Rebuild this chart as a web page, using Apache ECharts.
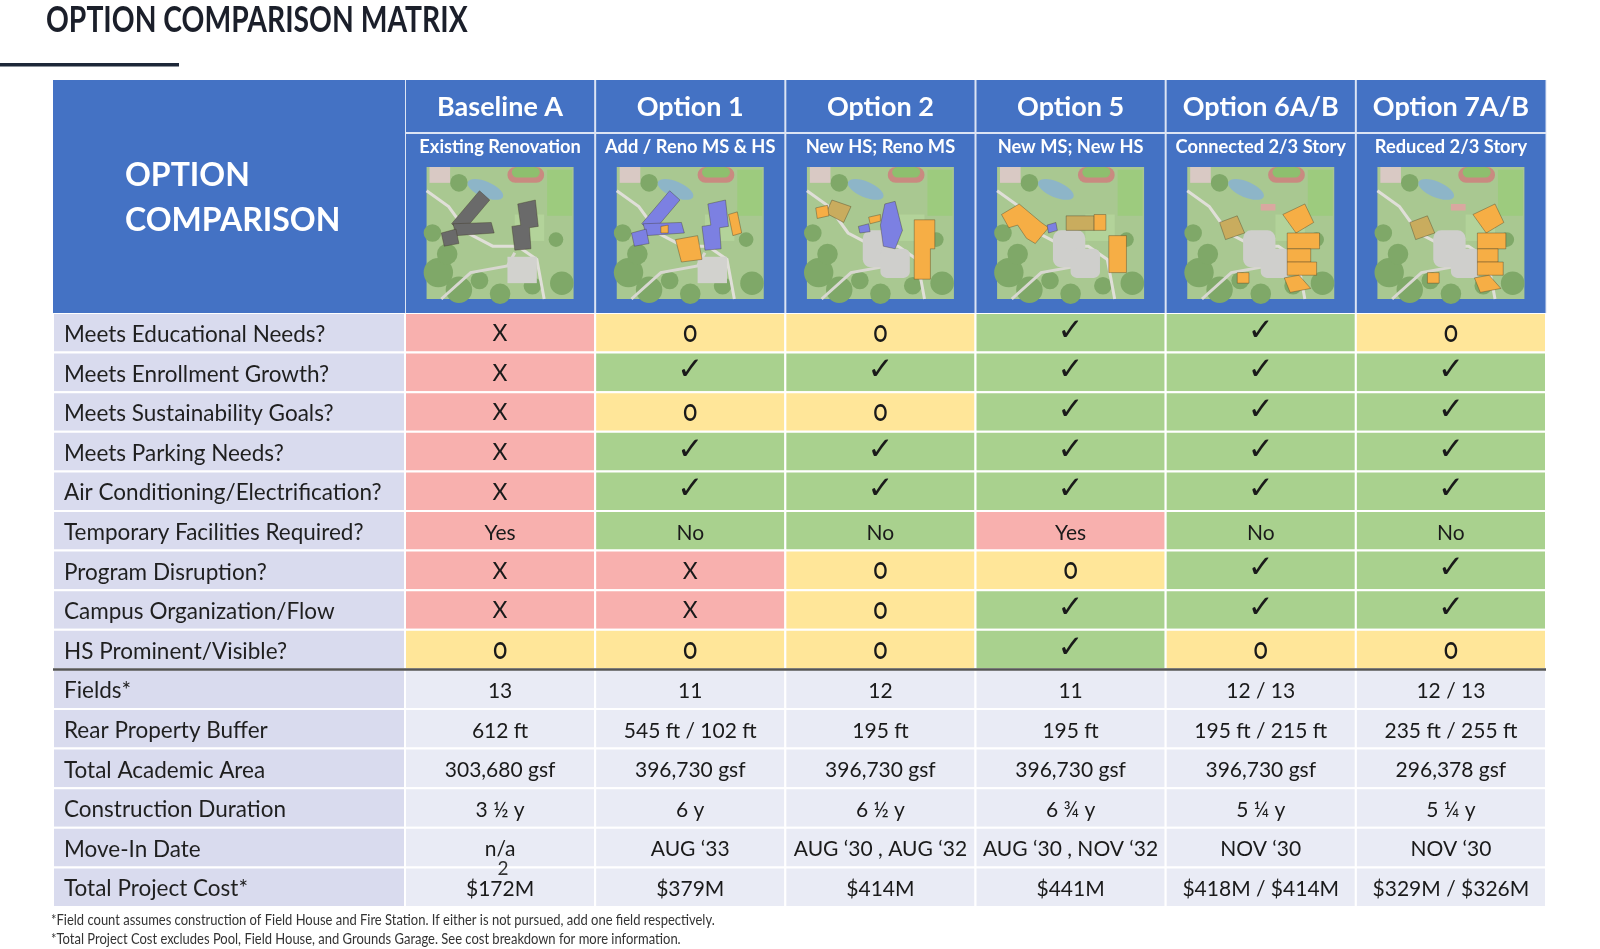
<!DOCTYPE html>
<html>
<head>
<meta charset="utf-8">
<script src="https://cdn.jsdelivr.net/npm/echarts@6/dist/echarts.min.js"></script>
<style>
html,body{margin:0;padding:0;background:#fff;}
#chart{width:1600px;height:949px;}
</style>
</head>
<body>
<div id="chart"></div>
<script>
// ---------- DATA ----------
const options = ['Baseline A', 'Option 1', 'Option 2', 'Option 5', 'Option 6A/B', 'Option 7A/B'];
const subtitles = ['Existing Renovation', 'Add / Reno MS & HS', 'New HS; Reno MS', 'New MS; New HS', 'Connected 2/3 Story', 'Reduced 2/3 Story'];
const criteria = [
  'Meets Educational Needs?',
  'Meets Enrollment Growth?',
  'Meets Sustainability Goals?',
  'Meets Parking Needs?',
  'Air Conditioning/Electrification?',
  'Temporary Facilities Required?',
  'Program Disruption?',
  'Campus Organization/Flow',
  'HS Prominent/Visible?'
];
const ratings = [
  ['X', 'O', 'O', '✓', '✓', 'O'],
  ['X', '✓', '✓', '✓', '✓', '✓'],
  ['X', 'O', 'O', '✓', '✓', '✓'],
  ['X', '✓', '✓', '✓', '✓', '✓'],
  ['X', '✓', '✓', '✓', '✓', '✓'],
  ['Yes', 'No', 'No', 'Yes', 'No', 'No'],
  ['X', 'X', 'O', 'O', '✓', '✓'],
  ['X', 'X', 'O', '✓', '✓', '✓'],
  ['O', 'O', 'O', '✓', 'O', 'O']
];
const metrics = [
  'Fields*',
  'Rear Property Buffer',
  'Total Academic Area',
  'Construction Duration',
  'Move-In Date',
  'Total Project Cost*'
];
const metricValues = [
  ['13', '11', '12', '11', '12 / 13', '12 / 13'],
  ['612 ft', '545 ft / 102 ft', '195 ft', '195 ft', '195 ft / 215 ft', '235 ft / 255 ft'],
  ['303,680 gsf', '396,730 gsf', '396,730 gsf', '396,730 gsf', '396,730 gsf', '296,378 gsf'],
  ['3 ½ y', '6 y', '6 ½ y', '6 ¾ y', '5 ¼ y', '5 ¼ y'],
  ['n/a', 'AUG ‘33', 'AUG ‘30 , AUG ‘32', 'AUG ‘30 , NOV ‘32', 'NOV ‘30', 'NOV ‘30'],
  ['$172M', '$379M', '$414M', '$441M', '$418M / $414M', '$329M / $326M']
];
const footnotes = [
  '*Field count assumes construction of Field House and Fire Station. If either is not pursued, add one field respectively.',
  '*Total Project Cost excludes Pool, Field House, and Grounds Garage. See cost breakdown for more information.'
];
const titleText = 'OPTION COMPARISON MATRIX';
const headerLabel = 'OPTION\nCOMPARISON';

// ---------- STYLE ----------
const FONT = 'Lato, "Open Sans", sans-serif';
const BLUE = '#4472C4';
const STATUS_COLOR = { 'X': '#F8B0AE', 'Yes': '#F8B0AE', 'O': '#FFE699', '✓': '#A9D18E', 'No': '#A9D18E' };
const LABEL_BG = '#D9DBEE';
const METRIC_BG = '#E9EBF5';
const LABEL_W = 352;

const rows = criteria.concat(metrics);
const cells = [];
rows.forEach((r, ri) => {
  options.forEach((o, ci) => {
    const text = ri < criteria.length ? ratings[ri][ci] : metricValues[ri - criteria.length][ci];
    cells.push({ c: ci, r: ri, text: text, rating: ri < criteria.length });
  });
});

function thumb(x, y, w, h, k) {
  const P = (pts, fill) => ({ type: 'polygon', shape: { points: pts.map(p => [x + p[0] * w, y + p[1] * h]) }, style: { fill: fill, stroke: 'rgba(60,50,30,0.6)', lineWidth: 0.6 } });
  const Rr = (fx, fy, fw, fh, fill, extra) => ({ type: 'rect', shape: { x: x + fx * w, y: y + fy * h, width: fw * w, height: fh * h, r: (extra && extra.r) || 0 }, style: Object.assign({ fill: fill }, extra && extra.style) });
  const C = (fx, fy, fr, fill) => ({ type: 'circle', shape: { cx: x + fx * w, cy: y + fy * h, r: fr * w }, style: { fill: fill } });
  const L = (pts, color, lw) => ({ type: 'polyline', shape: { points: pts.map(p => [x + p[0] * w, y + p[1] * h]) }, style: { stroke: color, lineWidth: lw, fill: null } });
  const ch = [];
  ch.push(Rr(0, 0, 1, 1, '#A9C891'));
  ch.push(Rr(0.82, 0.02, 0.17, 0.35, '#9DCB7E'));
  ch.push(Rr(0.6, 0.36, 0.2, 0.2, '#B3D39A'));
  [[0.08, 0.8, 0.1], [0.22, 0.93, 0.09], [0.04, 0.5, 0.06], [0.14, 0.66, 0.07], [0.92, 0.88, 0.08], [0.88, 0.55, 0.05], [0.5, 0.96, 0.07], [0.22, 0.12, 0.06], [0.72, 0.9, 0.06], [0.36, 0.86, 0.06]].forEach(c => ch.push(C(c[0], c[1], c[2], '#7FA868')));
  ch.push(Rr(0.55, 0.0, 0.25, 0.12, '#C98A80', { r: 8 }));
  ch.push(Rr(0.58, 0.0, 0.19, 0.08, '#8EBF6E', { r: 6 }));
  ch.push({ type: 'ellipse', shape: { cx: x + 0.4 * w, cy: y + 0.17 * h, rx: 0.13 * w, ry: 0.06 * h }, rotation: -0.4, originX: x + 0.4 * w, originY: y + 0.17 * h, style: { fill: '#8DB5C8' } });
  ch.push(Rr(0.02, 0.0, 0.14, 0.12, '#D9C9C4'));
  ch.push(L([[0, 0.18], [0.15, 0.3], [0.28, 0.5], [0.45, 0.6], [0.62, 0.6], [0.75, 0.7], [0.8, 1]], '#E0DFD8', 3));
  ch.push(L([[0.1, 1], [0.3, 0.8], [0.55, 0.75], [0.6, 0.65]], '#D8D7D0', 3));
  if (k === 0 || k === 1) {
    ch.push(Rr(0.55, 0.68, 0.2, 0.2, '#D2D2CE'));
  } else {
    ch.push(Rr(0.38, 0.48, 0.22, 0.28, '#CFCFCC', { r: 8 }));
    ch.push(Rr(0.5, 0.62, 0.2, 0.22, '#CFCFCC', { r: 6 }));
  }
  const GREY = '#6A6A6A', PURP = '#7C80E2', ORG = '#F6AE45', TAN = '#C9AC5E';
  if (k === 0 || k === 1) {
    const col = k === 0 ? GREY : PURP;
    ch.push(P([[0.36, 0.18], [0.43, 0.25], [0.24, 0.5], [0.17, 0.43]], col));
    ch.push(P([[0.18, 0.43], [0.44, 0.42], [0.46, 0.5], [0.2, 0.52]], col));
    ch.push(P([[0.1, 0.5], [0.2, 0.47], [0.22, 0.58], [0.12, 0.6]], col));
    ch.push(P([[0.62, 0.28], [0.74, 0.25], [0.76, 0.45], [0.7, 0.46], [0.71, 0.62], [0.6, 0.63], [0.58, 0.45], [0.64, 0.44]], col));
    if (k === 1) {
      ch.push(P([[0.4, 0.55], [0.55, 0.52], [0.58, 0.7], [0.44, 0.72]], ORG));
      ch.push(P([[0.76, 0.36], [0.82, 0.34], [0.85, 0.5], [0.79, 0.52]], ORG));
      ch.push(P([[0.3, 0.45], [0.35, 0.44], [0.35, 0.5], [0.3, 0.5]], ORG));
    }
  } else if (k === 2) {
    ch.push(P([[0.53, 0.28], [0.6, 0.26], [0.65, 0.48], [0.6, 0.62], [0.52, 0.6], [0.5, 0.44]], PURP));
    ch.push(P([[0.35, 0.45], [0.42, 0.43], [0.43, 0.49], [0.36, 0.5]], PURP));
    ch.push(P([[0.42, 0.38], [0.5, 0.36], [0.5, 0.41], [0.43, 0.43]], ORG));
    ch.push(P([[0.73, 0.4], [0.87, 0.4], [0.87, 0.62], [0.84, 0.62], [0.84, 0.85], [0.73, 0.85]], ORG));
    ch.push(P([[0.17, 0.25], [0.3, 0.3], [0.25, 0.42], [0.13, 0.35]], TAN));
    ch.push(P([[0.06, 0.31], [0.14, 0.29], [0.15, 0.37], [0.07, 0.39]], ORG));
  } else if (k === 3) {
    ch.push(P([[0.03, 0.36], [0.15, 0.28], [0.3, 0.42], [0.35, 0.46], [0.26, 0.58], [0.2, 0.54], [0.14, 0.44], [0.08, 0.46]], ORG));
    ch.push(P([[0.34, 0.44], [0.4, 0.42], [0.41, 0.48], [0.35, 0.5]], PURP));
    ch.push(P([[0.47, 0.37], [0.66, 0.37], [0.66, 0.48], [0.47, 0.48]], TAN));
    ch.push(P([[0.66, 0.36], [0.74, 0.36], [0.74, 0.48], [0.66, 0.48]], ORG));
    ch.push(P([[0.76, 0.52], [0.88, 0.52], [0.88, 0.8], [0.76, 0.8]], ORG));
  } else {
    const s = k === 4 ? 1 : 0.88;
    ch.push(P([[0.65, 0.36], [0.8, 0.28], [0.86, 0.42], [0.74, 0.5]], ORG));
    ch.push(P([[0.68, 0.5], [0.68 + 0.22 * s, 0.5], [0.68 + 0.22 * s, 0.62], [0.68, 0.62]], ORG));
    ch.push(P([[0.68, 0.62], [0.68 + 0.16 * s, 0.62], [0.68 + 0.16 * s, 0.72], [0.68, 0.72]], ORG));
    ch.push(P([[0.68, 0.72], [0.68 + 0.2 * s, 0.72], [0.68 + 0.2 * s, 0.82], [0.68, 0.82]], ORG));
    ch.push(P([[0.66, 0.84], [0.76, 0.82], [0.84, 0.92], [0.7, 0.95]], ORG));
    ch.push(P([[0.22, 0.42], [0.34, 0.37], [0.39, 0.5], [0.26, 0.55]], TAN));
    ch.push(P([[0.34, 0.8], [0.42, 0.8], [0.42, 0.88], [0.34, 0.88]], ORG));
    ch.push(Rr(0.5, 0.28, 0.1, 0.05, '#D9A8A0'));
  }
  return ch;
}

const chart = echarts.init(document.getElementById('chart'), null, { renderer: 'canvas' });

const option = {
  backgroundColor: '#ffffff',
  animation: false,
  grid: [
    { left: 405, right: 54, top: 313, bottom: 42 },
    { left: 405, right: 54, top: 80, height: 233 }
  ],
  xAxis: [
    { type: 'category', data: options, gridIndex: 0, show: false },
    { type: 'category', data: options, gridIndex: 1, show: false }
  ],
  yAxis: [
    { type: 'category', data: rows, gridIndex: 0, inverse: true, show: false },
    { type: 'value', min: 0, max: 1, gridIndex: 1, show: false }
  ],
  graphic: [
    { type: 'text', left: 46, top: 2, scaleX: 0.765, style: { text: titleText, font: 'bold 37px ' + FONT, fill: '#1B1F2A' } },
    { type: 'rect', shape: { x: 0, y: 63, width: 179, height: 3.5 }, style: { fill: '#1D2838' } },
    { type: 'text', left: 51, top: 913, scaleX: 0.865, style: { text: footnotes[0], font: '15px ' + FONT, fill: '#333' } },
    { type: 'text', left: 51, top: 932, scaleX: 0.865, style: { text: footnotes[1], font: '15px ' + FONT, fill: '#333' } },
    { type: 'text', x: 503, y: 869, style: { text: '2', font: '19px ' + FONT, fill: '#333', textAlign: 'center', textVerticalAlign: 'middle' }, z: 50 }
  ],
  series: [
    {
      type: 'custom',
      xAxisIndex: 0, yAxisIndex: 0,
      data: cells.map(d => [d.c, d.r]),
      renderItem: function (params, api) {
        const d = cells[params.dataIndex];
        const p = api.coord([d.c, d.r]);
        const s = api.size([1, 1]);
        const cs = params.coordSys;
        const x0 = p[0] - s[0] / 2, y0 = p[1] - s[1] / 2;
        const children = [];
        const fill = d.rating ? STATUS_COLOR[d.text] : METRIC_BG;
        children.push({ type: 'rect', shape: { x: x0, y: y0, width: s[0], height: s[1] }, style: { fill: fill, stroke: '#ffffff', lineWidth: 2 } });
        let font = '21px ' + FONT;
        let ty = p[1] + 2;
        let sx = 1;
        if (d.text === '✓') { font = 'bold 31px "DejaVu Sans", sans-serif'; ty = p[1] - 1; }
        else if (d.text === 'O') { font = 'bold 22px ' + FONT; ty = p[1] + 2; sx = 0.78; }
        else if (d.text === 'X') { font = '23px ' + FONT; ty = p[1] + 1; }
        children.push({ type: 'text', x: p[0], y: ty, scaleX: sx, style: { text: d.text, x: 0, y: 0, textAlign: 'center', textVerticalAlign: 'middle', font: font, fill: '#1a1a1a' } });
        if (d.c === 0) {
          children.push({ type: 'rect', shape: { x: cs.x - LABEL_W, y: y0, width: LABEL_W, height: s[1] }, style: { fill: LABEL_BG, stroke: '#ffffff', lineWidth: 2 } });
          children.push({ type: 'text', style: { text: rows[d.r], x: cs.x - LABEL_W + 11, y: p[1] + 2, textAlign: 'left', textVerticalAlign: 'middle', font: '22.5px ' + FONT, fill: '#1f1f1f' } });
          if (d.r === criteria.length - 1) {
            children.push({ type: 'line', z2: 100, shape: { x1: cs.x - LABEL_W, y1: y0 + s[1], x2: cs.x + cs.width, y2: y0 + s[1] }, style: { stroke: '#555555', lineWidth: 2.5 } });
          }
        }
        return { type: 'group', children: children };
      }
    },
    {
      type: 'custom',
      xAxisIndex: 1, yAxisIndex: 1,
      data: options.map((o, i) => [i, 0.5]),
      renderItem: function (params, api) {
        const i = params.dataIndex;
        const p = api.coord([i, 0.5]);
        const s = api.size([1, 1]);
        const cs = params.coordSys;
        const top = cs.y, H = cs.height;
        const x0 = p[0] - s[0] / 2;
        const ch = [];
        ch.push({ type: 'rect', shape: { x: x0, y: top, width: s[0], height: H }, style: { fill: BLUE } });
        ch.push({ type: 'line', shape: { x1: x0, y1: top + 53, x2: x0 + s[0], y2: top + 53 }, style: { stroke: '#DCE4F4', lineWidth: 2 } });
        ch.push({ type: 'line', shape: { x1: x0, y1: top, x2: x0, y2: top + H }, style: { stroke: '#DCE4F4', lineWidth: 2 } });
        ch.push({ type: 'text', style: { text: options[i], x: p[0], y: top + 27, textAlign: 'center', textVerticalAlign: 'middle', font: 'bold 27px ' + FONT, fill: '#ffffff' } });
        ch.push({ type: 'text', style: { text: subtitles[i], x: p[0], y: top + 67, textAlign: 'center', textVerticalAlign: 'middle', font: 'bold 18.3px ' + FONT, fill: '#ffffff' } });
        ch.push({ type: 'group', children: thumb(p[0] - 73.5, top + 87, 147, 132, i) });
        if (i === 0) {
          ch.push({ type: 'rect', shape: { x: cs.x - LABEL_W, y: top, width: LABEL_W, height: H }, style: { fill: BLUE } });
          ch.push({ type: 'text', style: { text: headerLabel, x: cs.x - LABEL_W + 72, y: top + 118, textAlign: 'left', textVerticalAlign: 'middle', font: 'bold 32px ' + FONT, lineHeight: 45, fill: '#ffffff' } });
        }
        if (i === options.length - 1) {
          ch.push({ type: 'line', shape: { x1: x0 + s[0], y1: top, x2: x0 + s[0], y2: top + H }, style: { stroke: '#DCE4F4', lineWidth: 1 } });
        }
        return { type: 'group', children: ch };
      }
    }
  ]
};
chart.setOption(option);
</script>
</body>
</html>
